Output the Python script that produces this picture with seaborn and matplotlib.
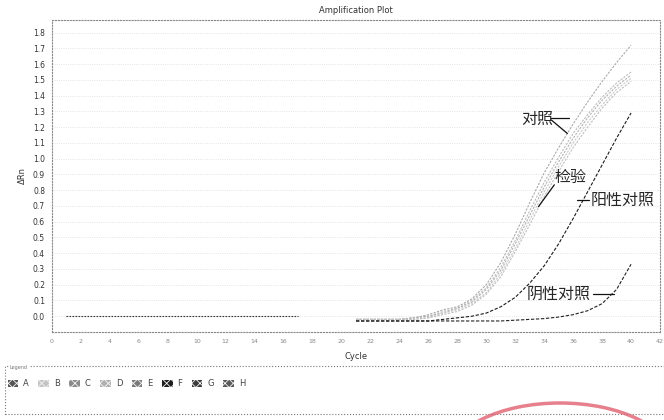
import numpy as np
import pandas as pd
import matplotlib
matplotlib.use("Agg")
import matplotlib.pyplot as plt
import seaborn as sns
from matplotlib.patches import Patch, Rectangle, Arc

# ---------------- data ----------------
early_cycles = list(range(1, 18))
early_values = [0.0] * 17

late_cycles = list(range(21, 41))
well_A = [-0.02, -0.02, -0.02, -0.02, -0.01, 0.01, 0.04, 0.06, 0.11, 0.20, 0.34, 0.52, 0.72, 0.91, 1.07, 1.22, 1.36, 1.49, 1.61, 1.72]
well_B = [-0.02, -0.02, -0.02, -0.02, -0.01, 0.00, 0.03, 0.05, 0.10, 0.18, 0.31, 0.48, 0.67, 0.85, 1.01, 1.16, 1.28, 1.39, 1.48, 1.55]
well_C = [-0.02, -0.02, -0.02, -0.02, -0.01, 0.00, 0.02, 0.05, 0.09, 0.17, 0.29, 0.46, 0.64, 0.82, 0.98, 1.13, 1.26, 1.37, 1.46, 1.53]
well_D = [-0.02, -0.02, -0.02, -0.02, -0.02, -0.01, 0.02, 0.04, 0.08, 0.15, 0.27, 0.43, 0.61, 0.79, 0.95, 1.10, 1.23, 1.34, 1.44, 1.51]
well_E = [-0.02, -0.02, -0.02, -0.02, -0.02, -0.01, 0.01, 0.03, 0.07, 0.14, 0.25, 0.41, 0.58, 0.76, 0.92, 1.07, 1.20, 1.32, 1.42, 1.49]
well_F = [-0.03, -0.03, -0.03, -0.03, -0.03, -0.03, -0.02, -0.01, 0.00, 0.02, 0.06, 0.12, 0.21, 0.32, 0.46, 0.62, 0.79, 0.96, 1.13, 1.29]
well_G = [-0.03, -0.03, -0.03, -0.03, -0.03, -0.03, -0.03, -0.03, -0.03, -0.03, -0.03, -0.025, -0.02, -0.015, -0.005, 0.01, 0.035, 0.08, 0.17, 0.33]

legend_labels = ["A", "B", "C", "D", "E", "F", "G", "H"]
legend_colors = ["#555555", "#c4c4c4", "#8a8a8a", "#b0b0b0", "#7a7a7a", "#1e1e1e", "#3c3c3c", "#5a5a5a"]

y_ticks = [round(0.1 * i, 1) for i in range(19)]
x_ticks = list(range(0, 43, 2))

# ---------------- figure ----------------
sns.set_style("white")
plt.rcParams["font.family"] = ["DejaVu Sans"]
plt.rcParams["hatch.linewidth"] = 0.6

fig = plt.figure(figsize=(6.64, 4.2), dpi=100)
ax = fig.add_axes([52 / 664, 1 - 332 / 420, 608 / 664, 312 / 420])

wells = {"A": well_A, "B": well_B, "C": well_C, "D": well_D,
         "E": well_E, "F": well_F, "G": well_G}
rows = []
for w, vals in wells.items():
    for c, v in zip(late_cycles, vals):
        rows.append({"Cycle": c, "dRn": v, "Well": w})
df = pd.DataFrame(rows)

line_colors = {"A": "#a9a9a9", "B": "#bdbdbd", "C": "#b3b3b3", "D": "#c9c9c9",
               "E": "#bfbfbf", "F": "#1a1a1a", "G": "#222222"}
dash_map = {"A": (2, 1.2), "B": (2, 1.2), "C": (2, 1.2), "D": (2, 1.2),
            "E": (2, 1.2), "F": (3, 1.5), "G": (3, 1.5)}
sns.lineplot(data=df, x="Cycle", y="dRn", hue="Well", style="Well",
             palette=line_colors, dashes=dash_map, legend=False, ax=ax,
             linewidth=0.8)

early_df = pd.DataFrame({"Cycle": early_cycles, "dRn": early_values})
sns.lineplot(data=early_df, x="Cycle", y="dRn", color="#333333", ax=ax,
             linewidth=0.8, linestyle=(0, (1.5, 1.2)))

ax.set_xlim(0, 42)
ax.set_ylim(-0.1, 1.88)
ax.set_xticks(x_ticks)
ax.set_xticklabels([str(t) for t in x_ticks], fontsize=4.5, color="#888888")
ax.set_yticks(y_ticks)
ax.set_yticklabels([f"{t:.1f}" for t in y_ticks], fontsize=5.5, color="#333333")
ax.tick_params(axis="both", length=2, width=0.5, color="#999999", pad=3)
ax.set_xlabel("Cycle", fontsize=6, color="#333333", labelpad=6)
ax.set_ylabel("ΔRn", fontsize=6, color="#333333", labelpad=4)
ax.set_title("Amplification Plot", fontsize=6, color="#333333", pad=5)
ax.yaxis.grid(True, linestyle=":", color="#dcdcdc", linewidth=0.6)
for s in ax.spines.values():
    s.set_linestyle(":")
    s.set_color("#888888")
    s.set_linewidth(0.8)

# annotations
cjk = ["Noto Sans CJK SC", "DejaVu Sans"]
lk = dict(color="#111111", linewidth=0.9)
ax.text(33.5, 1.25, "对照", family=cjk, fontsize=11.5, ha="center", va="center")
ax.plot([34.5, 35.7], [1.257, 1.257], **lk)
ax.plot([34.5, 35.6], [1.245, 1.16], **lk)
ax.text(35.8, 0.88, "检验", family=cjk, fontsize=11.5, ha="center", va="center")
ax.plot([34.7, 33.6], [0.834, 0.695], **lk)
ax.text(37.2, 0.735, "阳性对照", family=cjk, fontsize=11.5, ha="left", va="center",
        clip_on=False)
ax.plot([36.3, 37.1], [0.74, 0.74], **lk)
ax.text(35.0, 0.14, "阴性对照", family=cjk, fontsize=11.5, ha="center", va="center")
ax.plot([37.4, 38.8], [0.14, 0.14], **lk)

# legend box
fig.patches.append(Rectangle((5 / 664, 1 - 414 / 420), 659 / 664, 48 / 420,
                             transform=fig.transFigure, fill=False,
                             linestyle=":", edgecolor="#777777", linewidth=0.8))
fig.text(10 / 664, 1 - 367 / 420, "Legend", fontsize=3.5, color="#777777",
         va="center", ha="left",
         bbox=dict(facecolor="white", edgecolor="none", pad=0.5))
handles = [Patch(facecolor=c, edgecolor="#f4f4f4", hatch="xxxx", linewidth=0)
           for c in legend_colors]
leg = fig.legend(handles, legend_labels, loc="center left",
                 bbox_to_anchor=(0 / 664, 1 - 384 / 420), ncol=8, frameon=False,
                 fontsize=6, handlelength=1.3, handleheight=1.0,
                 columnspacing=1.1, handletextpad=0.6)
for t in leg.get_texts():
    t.set_color("#444444")

# stamp arc
fig.patches.append(Arc((560 / 664, 1 - 458 / 420), 220 / 664, 110 / 420,
                       transform=fig.transFigure, color="#e06070",
                       linewidth=2.5, alpha=0.8))

fig.savefig("out.png", dpi=100)
